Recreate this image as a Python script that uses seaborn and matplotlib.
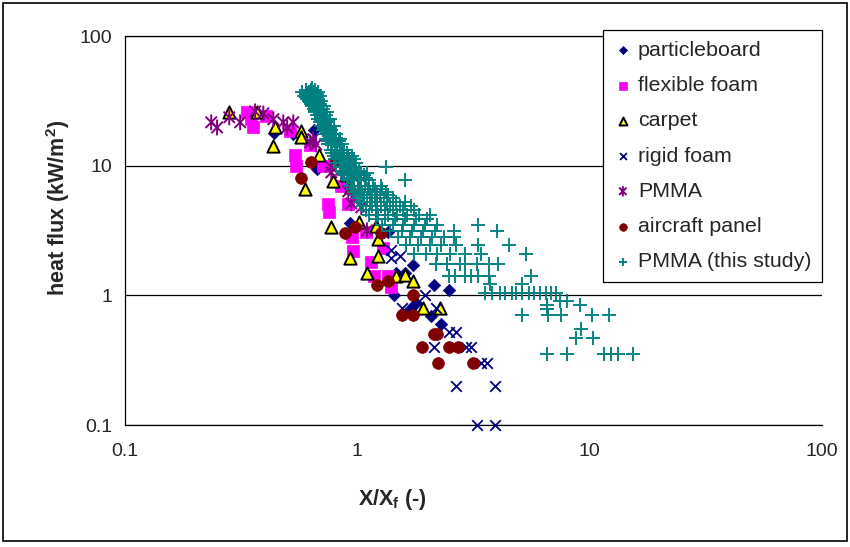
import matplotlib
matplotlib.use("Agg")
import matplotlib.pyplot as plt
from matplotlib.path import Path
from matplotlib.patches import Rectangle
from matplotlib.ticker import FixedLocator, LogLocator, NullFormatter, FuncFormatter
import seaborn as sns

sns.set_style("white")
plt.rcParams['font.family'] = ['Liberation Sans', 'DejaVu Sans']

# ---- data (X/Xf, heat flux kW/m2) ----
particleboard_x = [0.44, 0.53, 0.65, 0.67, 0.93, 1.36, 1.46, 1.61, 1.74, 2.13, 2.47, 1.44, 1.78, 1.69, 2.08, 2.30]
particleboard_y = [18, 17.5, 19, 9.5, 3.6, 3.1, 1.5, 1.5, 1.7, 1.2, 1.1, 1.0, 0.88, 0.79, 0.69, 0.6]

flexible_x = [0.336, 0.349, 0.357, 0.406, 0.514, 0.541, 0.546, 0.627, 0.713, 0.853, 0.750,
              0.757, 0.914, 0.95, 0.96, 1.09, 1.14, 1.18, 1.29, 1.36, 1.39]
flexible_y = [26, 23, 20, 24, 18.5, 12, 10, 14.5, 10, 7, 5.1,
              4.4, 5.1, 2.8, 2.2, 3.1, 1.8, 1.4, 2.3, 1.4, 1.15]

carpet_x = [0.281, 0.371, 0.444, 0.435, 0.574, 0.574, 0.685, 0.597, 0.789, 0.898, 0.942, 0.773,
            1.02, 1.20, 1.23, 0.933, 1.23, 1.10, 1.46, 1.60, 1.73, 1.92, 2.28]
carpet_y = [26, 26, 20, 14.3, 18.4, 16.5, 12, 6.6, 7.6, 8.4, 6.9, 3.35,
            3.65, 3.45, 2.7, 1.93, 2.0, 1.48, 1.4, 1.43, 1.3, 0.8, 0.8]

rigid_x = [1.40, 1.39, 1.53, 1.96, 1.55, 2.17, 2.47, 2.67, 2.13, 2.95, 3.07, 3.42, 3.60, 2.67, 3.90, 3.26, 3.90]
rigid_y = [2.25, 1.95, 2.0, 1.0, 0.8, 0.8, 0.52, 0.52, 0.4, 0.4, 0.4, 0.3, 0.3, 0.2, 0.2, 0.1, 0.1]

pmma_x = [0.235, 0.249, 0.281, 0.313, 0.363, 0.394, 0.435, 0.480, 0.530, 0.499,
          0.645, 0.665, 0.627, 0.766, 0.853, 0.773, 0.914, 0.942, 1.04, 1.10]
pmma_y = [21.6, 19.7, 23.6, 21.6, 26.2, 25.3, 22.8, 21.6, 21.6, 19.7,
          16.0, 14.6, 15.1, 9.85, 9.36, 8.88, 6.34, 5.12, 4.77, 3.17]

aircraft_x = [0.634, 0.811, 0.574, 0.887, 0.98, 1.26, 1.21, 1.36, 1.74, 1.56, 1.74,
              2.13, 2.21, 1.89, 2.47, 2.70, 2.23, 3.16]
aircraft_y = [10.6, 11.2, 8.0, 3.05, 3.35, 3.0, 1.2, 1.3, 1.0, 0.7, 0.7,
              0.5, 0.5, 0.4, 0.4, 0.4, 0.3, 0.3]

# PMMA (this study): one line per heat-flux level
study_x = [
    0.64,
    0.60, 0.63, 0.66,
    0.58, 0.62, 0.65, 0.68,
    0.60, 0.64, 0.67,
    0.59, 0.62, 0.66, 0.69,
    0.61, 0.65, 0.68,
    0.62, 0.64, 0.67, 0.70,
    0.63, 0.66, 0.69,
    0.64, 0.67, 0.70, 0.72,
    0.65, 0.68, 0.71,
    0.66, 0.69, 0.72, 0.74,
    0.67, 0.70, 0.73,
    0.68, 0.71, 0.74, 0.76,
    0.69, 0.72, 0.75,
    0.70, 0.73, 0.76, 0.79,
    0.71, 0.74, 0.77,
    0.72, 0.75, 0.78, 0.81,
    0.73, 0.76, 0.80, 0.84,
    0.75, 0.78, 0.82, 0.86,
    0.77, 0.80, 0.84, 0.88,
    0.79, 0.83, 0.87, 0.91, 0.95,
    0.81, 0.85, 0.89, 0.94, 0.99,
    0.84, 0.88, 0.93, 0.98, 1.33,
    0.86, 0.91, 0.96, 1.02,
    0.88, 0.94, 1.00, 1.07,
    0.91, 0.97, 1.04, 1.12, 1.60,
    0.94, 1.01, 1.08, 1.17, 1.27,
    0.97, 1.05, 1.13, 1.22, 1.33,
    1.01, 1.10, 1.19, 1.30, 1.42,
    1.06, 1.16, 1.26, 1.38, 1.52, 1.70,
    1.12, 1.23, 1.35, 1.48, 1.63, 1.85, 2.05,
    1.20, 1.32, 1.45, 1.60, 1.78, 2.00,
    1.28, 1.42, 1.58, 1.75, 1.95, 2.20, 3.30,
    1.38, 1.55, 1.72, 1.92, 2.15, 2.60, 4.00,
    1.50, 1.68, 1.88, 2.10, 2.35, 2.60,
    1.62, 1.82, 2.05, 2.30, 2.65, 3.30, 4.50,
    1.75, 1.98, 2.20, 2.50, 2.90, 3.40, 5.30,
    2.19, 2.42, 2.78, 2.92, 3.29, 3.67, 4.05,
    2.47, 2.64, 2.92, 3.10, 3.32, 3.67, 5.57,
    3.74, 5.09,
    3.56, 3.78, 4.13, 4.34, 4.61, 4.84, 5.09, 5.46, 5.74, 6.09, 6.46, 6.79, 7.14,
    7.43, 7.96,
    6.53, 9.06,
    6.53,
    5.09, 6.60, 7.50, 10.2, 12.1,
    9.15,
    8.70, 10.3,
    6.53, 7.96, 11.5, 12.3, 13.2, 15.3,
    # in-between levels of the dense band
    0.61, 0.65,
    0.60, 0.64, 0.67,
    0.65, 0.68,
    0.66, 0.70,
    0.70, 0.73,
    0.72, 0.75,
    0.75, 0.79, 0.83,
    0.78, 0.82, 0.86, 0.90,
    0.80, 0.84, 0.88, 0.92, 0.97,
    0.87, 0.92, 0.98, 1.04, 1.10,
    0.90, 0.95, 1.02, 1.09,
    0.96, 1.03, 1.11, 1.19, 1.28,
    0.99, 1.07, 1.16, 1.25, 1.36,
    1.03, 1.13, 1.22, 1.34, 1.46, 1.60,
    1.09, 1.20, 1.31, 1.43, 1.57, 1.75,
]
study_y = [
    40.0,
    38.5, 38.5, 38.5,
    37.1, 37.1, 37.1, 37.1,
    35.7, 35.7, 35.7,
    34.3, 34.3, 34.3, 34.3,
    32.9, 32.9, 32.9,
    31.5, 31.5, 31.5, 31.5,
    30.1, 30.1, 30.1,
    28.7, 28.7, 28.7, 28.7,
    27.3, 27.3, 27.3,
    25.9, 25.9, 25.9, 25.9,
    24.5, 24.5, 24.5,
    23.1, 23.1, 23.1, 23.1,
    21.7, 21.7, 21.7,
    20.3, 20.3, 20.3, 20.3,
    18.9, 18.9, 18.9,
    17.5, 17.5, 17.5, 17.5,
    16.1, 16.1, 16.1, 16.1,
    14.7, 14.7, 14.7, 14.7,
    13.3, 13.3, 13.3, 13.3,
    11.9, 11.9, 11.9, 11.9, 11.9,
    10.5, 10.5, 10.5, 10.5, 10.5,
    9.8, 9.8, 9.8, 9.8, 9.8,
    9.1, 9.1, 9.1, 9.1,
    8.4, 8.4, 8.4, 8.4,
    7.7, 7.7, 7.7, 7.7, 7.7,
    7.0, 7.0, 7.0, 7.0, 7.0,
    6.3, 6.3, 6.3, 6.3, 6.3,
    5.6, 5.6, 5.6, 5.6, 5.6,
    4.9, 4.9, 4.9, 4.9, 4.9, 4.9,
    4.2, 4.2, 4.2, 4.2, 4.2, 4.2, 4.2,
    3.85, 3.85, 3.85, 3.85, 3.85, 3.85,
    3.5, 3.5, 3.5, 3.5, 3.5, 3.5, 3.5,
    3.15, 3.15, 3.15, 3.15, 3.15, 3.15, 3.15,
    2.8, 2.8, 2.8, 2.8, 2.8, 2.8,
    2.45, 2.45, 2.45, 2.45, 2.45, 2.45, 2.45,
    2.1, 2.1, 2.1, 2.1, 2.1, 2.1, 2.1,
    1.75, 1.75, 1.75, 1.75, 1.75, 1.75, 1.75,
    1.4, 1.4, 1.4, 1.4, 1.4, 1.4, 1.4,
    1.22, 1.22,
    1.05, 1.05, 1.05, 1.05, 1.05, 1.05, 1.05, 1.05, 1.05, 1.05, 1.05, 1.05, 1.05,
    0.9, 0.9,
    0.84, 0.84,
    0.78,
    0.7, 0.7, 0.7, 0.7, 0.7,
    0.55,
    0.47, 0.47,
    0.35, 0.35, 0.35, 0.35, 0.35, 0.35,
    # in-between levels of the dense band
    36.4, 36.4,
    33.6, 33.6, 33.6,
    29.4, 29.4,
    26.6, 26.6,
    22.4, 22.4,
    19.6, 19.6,
    15.4, 15.4, 15.4,
    12.6, 12.6, 12.6, 12.6,
    11.2, 11.2, 11.2, 11.2, 11.2,
    8.75, 8.75, 8.75, 8.75, 8.75,
    8.05, 8.05, 8.05, 8.05,
    6.65, 6.65, 6.65, 6.65, 6.65,
    5.95, 5.95, 5.95, 5.95, 5.95,
    5.25, 5.25, 5.25, 5.25, 5.25, 5.25,
    4.55, 4.55, 4.55, 4.55, 4.55, 4.55,
]
assert len(study_x) == len(study_y)

# Excel-like asterisk: vertical bar plus an x
asterisk = Path([(0, -1), (0, 1), (-0.72, -0.72), (0.72, 0.72), (-0.72, 0.72), (0.72, -0.72)],
                [Path.MOVETO, Path.LINETO] * 3)

fig = plt.figure(figsize=(8.5, 5.47), dpi=100)
ax = fig.add_axes([125 / 850, 1 - 425 / 547, 697 / 850, 389 / 547])

series = [
    ("particleboard", particleboard_x, particleboard_y,
     dict(marker='D', s=40, color='#000080', edgecolor='#000080', linewidth=0.5)),
    ("flexible foam", flexible_x, flexible_y,
     dict(marker='s', s=72, color='#FF00FF', edgecolor='#FF00FF', linewidth=0.5)),
    ("carpet", carpet_x, carpet_y,
     dict(marker='^', s=78, color='#FFFF00', edgecolor='black', linewidth=1.4)),
    ("rigid foam", rigid_x, rigid_y,
     dict(marker='x', s=58, color='#000080', linewidth=1.3)),
    ("PMMA", pmma_x, pmma_y,
     dict(marker=asterisk, s=130, color='#800080', facecolor='none', edgecolor='#800080', linewidth=1.4)),
    ("aircraft panel", aircraft_x, aircraft_y,
     dict(marker='o', s=72, color='#800000', edgecolor='#800000', linewidth=0.5)),
    ("PMMA (this study)", study_x, study_y,
     dict(marker='+', s=95, color='#008080', linewidth=1.35)),
]

for i, (label, xs, ys, kw) in enumerate(series):
    sns.scatterplot(x=xs, y=ys, ax=ax, label=label, clip_on=False, zorder=3 + i, **kw)

ax.set_xscale('log')
ax.set_yscale('log')
ax.set_xlim(0.1, 100)
ax.set_ylim(0.1, 100)

fmt = FuncFormatter(lambda v, _: f"{v:g}")
for axis in (ax.xaxis, ax.yaxis):
    axis.set_major_locator(FixedLocator([0.1, 1, 10, 100]))
    axis.set_major_formatter(fmt)
    axis.set_minor_locator(LogLocator(base=10, subs=range(2, 10)))
    axis.set_minor_formatter(NullFormatter())

ax.tick_params(which='major', direction='out', length=4, width=0.9, color='black',
               labelsize=14, pad=5)
ax.tick_params(which='minor', direction='out', length=2.5, width=0.8, color='black')
ax.tick_params(axis='x', which='major', pad=9)

ax.yaxis.grid(True, which='major', color='black', linewidth=0.9)
ax.xaxis.grid(False)
for side in ('left', 'bottom', 'top'):
    ax.spines[side].set_color('black')
    ax.spines[side].set_linewidth(0.9)
ax.spines['right'].set_visible(False)

ax.set_xlabel('X/X$_\\mathregular{f}$ (-)', fontsize=15.5, fontweight='bold')
ax.set_ylabel('heat flux (kW/m$^\\mathregular{2}$)', fontsize=15.5, fontweight='bold')
ax.xaxis.label.set_va('center')
ax.xaxis.set_label_coords((392 - 125) / 697, (425 - 500) / 389)
ax.yaxis.label.set_va('center')
ax.yaxis.set_label_coords((58 - 125) / 697, (425 - 208) / 389)

leg = ax.legend(loc='upper right', bbox_to_anchor=(1.0, 1.015), borderaxespad=0,
                frameon=True, fancybox=False, framealpha=1, edgecolor='black',
                fontsize=15.4, markerscale=0.65, labelspacing=0.76, handletextpad=0.25,
                handlelength=0.9, borderpad=0.5)
leg.get_frame().set_linewidth(0.9)
leg.set_zorder(20)

fig.patches.append(Rectangle((0.004, 0.011), 0.992, 0.984, transform=fig.transFigure,
                             fill=False, edgecolor='black', linewidth=1.2))

fig.savefig('out.png', dpi=100)
